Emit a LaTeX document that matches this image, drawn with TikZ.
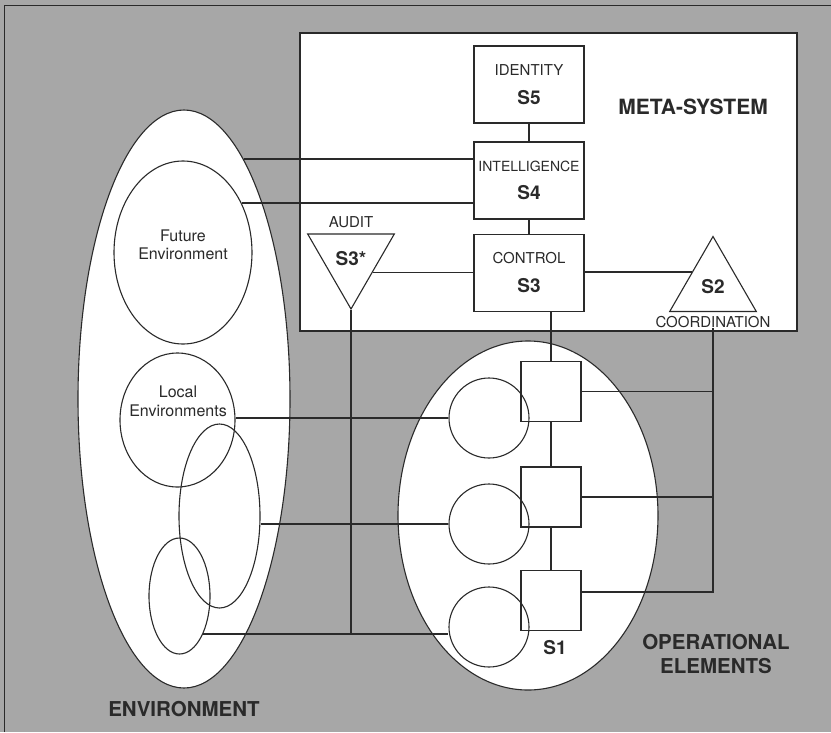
\documentclass[tikz,border=0pt]{standalone}
\usepackage{fontspec}
\setmainfont{TeX Gyre Heros}
\usetikzlibrary{positioning,shapes.geometric,calc}
\definecolor{bggray}{RGB}{167,167,167}
\definecolor{ink}{RGB}{42,42,42}
\newcommand{\sname}[1]{{\fontsize{19}{29}\selectfont\bfseries #1}}

\begin{document}
\begin{tikzpicture}[
    x=1pt, y=-1pt,
    every node/.style={text=ink},
    shapeline/.style={draw=ink, line width=1.1pt},
    wire/.style={draw=ink, line width=1.7pt},
    sbox/.style={shapeline, minimum width=110pt, minimum height=77pt, inner sep=0pt, align=center, font=\fontsize{15}{29}\selectfont},
    tri/.style={shapeline, regular polygon, regular polygon sides=3, minimum size=100pt, inner sep=0pt, font=\fontsize{19}{22}\selectfont\bfseries},
    oval/.style={shapeline, ellipse, inner sep=0pt},
    unit/.style={shapeline, minimum size=60pt, inner sep=0pt},
    op/.style={shapeline, circle, minimum size=80pt, inner sep=0pt},
    tag/.style={font=\fontsize{15}{18}\selectfont, inner sep=0pt},
    envtext/.style={font=\fontsize{16}{18.5}\selectfont, align=center, inner sep=0pt},
    title/.style={font=\fontsize{20.5}{24}\selectfont\bfseries, align=center, inner sep=0pt},
  ]
  \useasboundingbox (0,0) rectangle (831,732);
  \fill[bggray] (0,0) rectangle (831,732);
  \draw[ink, line width=1pt] (4,732) -- (4,5) -- (831,5);

  \node[oval, fill=white, minimum width=212pt, minimum height=578pt] (env) at (184,399) {};
  \node[shapeline, fill=white, minimum width=497pt, minimum height=298pt] (meta) at (548.5,182) {};
  \node[oval, fill=white, minimum width=260pt, minimum height=349pt] (opel) at (528,515.5) {};

  \node[sbox] (s5) at (529,84.5) {IDENTITY\\\sname{S5}};
  \node[sbox, font=\fontsize{14}{28}\selectfont] (s4) at (529,180.5) {INTELLIGENCE\\\sname{S4}};
  \node[sbox] (s3) at (529,273) {CONTROL\\\sname{S3}};
  \node[title, font=\fontsize{21}{24}\selectfont\bfseries] (metatitle) at (693,107) {META-SYSTEM};

  \node[tri] (s2) at (713,286.5) {S2};
  \node[tag, below=4pt of s2] (coord) {COORDINATION};
  \node[tri, shape border rotate=180] (s3a) at (351,259) {S3*};
  \node[tag, above=5.5pt of s3a] (audit) {AUDIT};

  \node[oval, minimum width=138pt, minimum height=183pt] (futenv) at (183,252.5) {};
  \node[envtext] (futtext) at (183,245) {Future\\Environment};
  \node[oval, minimum width=115pt, minimum height=134pt] (locenv) at (177.5,420) {};
  \node[envtext] (loctext) at (178,401.5) {Local\\Environments};
  \node[oval, minimum width=81pt, minimum height=184pt] (locenvb) at (219.5,516) {};
  \node[oval, minimum width=61pt, minimum height=116pt] (locenvc) at (179.5,596) {};
  \node[title, below=13pt of env] (envtitle) {ENVIRONMENT};

  \foreach \i/\y in {1/391.5, 2/497, 3/600.5}
    \node[unit] (sq\i) at (551,\y) {};
  \foreach \i/\y in {1/418, 2/524, 3/627}
    \node[op] (c\i) at (489,\y) {};
  \node[title, font=\fontsize{19}{22}\selectfont\bfseries] (s1) at (555,648) {S1};
  \node[title] (optitle) at (716,654) {OPERATIONAL\\ELEMENTS};

  \draw[wire] (s5) -- (s4);
  \draw[wire] (s4) -- (s3);
  \draw[wire] (env.76.4) -- (env.76.4 -| s4.west);
  \draw[wire] (futenv.40) -- (futenv.40 -| s4.west);
  \draw[wire] (s3a.-32) -- (s3a.-32 -| s3.west);
  \draw[wire] (s2.146) -- (s2.146 -| s3.east);
  \draw[wire] (sq1.north) -- (sq1.north |- s3.south);
  \draw[wire] (sq1) -- (sq2);
  \draw[wire] (sq2) -- (sq3);
  \draw[wire] (coord.south) |- ([yshift=8.5pt]sq3.east);
  \draw[wire] (sq1.east) -- (sq1.east -| coord.south);
  \draw[wire] (sq2.east) -- (sq2.east -| coord.south);
  \draw[wire] (locenv.east |- c1.west) -- (c1.west);
  \draw[wire] (locenvb.east |- c2.west) -- (c2.west);
  \draw[wire] (locenvc.-58) -- (locenvc.-58 -| c3.west);
  \draw[wire] (s3a.south) -- (s3a.south |- locenvc.-58);
\end{tikzpicture}
\end{document}
